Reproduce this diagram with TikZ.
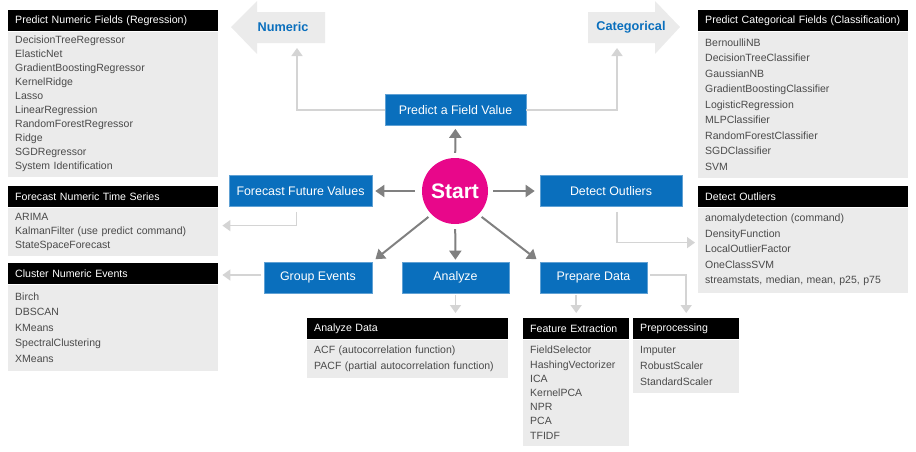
\documentclass[tikz,border=0pt]{standalone}
\usepackage{fontspec}
\setmainfont{Liberation Sans}
\usetikzlibrary{arrows.meta}
\definecolor{aiBlue}{HTML}{0A6FBD}
\definecolor{aiPink}{HTML}{E8078A}
\definecolor{aiPanel}{HTML}{EBEBEB}
\definecolor{aiInk}{HTML}{4A4A4A}
\definecolor{aiDark}{HTML}{808080}
\definecolor{aiLight}{HTML}{D4D4D4}
\tikzset{
  ai diagram/.style={x=1pt, y=-1pt},
  ai task/.style={fill=aiBlue, draw=aiBlue!65!white, line width=0.6pt, text=white,
    font=\fontsize{12.4}{14}\selectfont, minimum height=31pt},
  ai head/.style={fill=black, text=white, font=\fontsize{10.6}{12}\selectfont,
    minimum height=21pt, anchor=north west, align=left, inner xsep=7pt, inner ysep=0pt},
  ai list/.style={fill=aiPanel, text=aiInk, font=\fontsize{10.5}{#1}\selectfont,
    align=left, anchor=north west, inner xsep=7pt, inner ysep=3pt},
  ai arrow/.style={-{Triangle[length=9pt,width=12pt]}, draw=aiDark, line width=2pt,
    shorten <=5pt, shorten >=3pt},
  ai link/.style={-{Triangle[length=8pt,width=11pt]}, draw=aiLight, line width=1.6pt},
  ai tag/.style={text=aiBlue, font=\fontsize{12.7}{14}\selectfont\bfseries}
}
\begin{document}
\begin{tikzpicture}[ai diagram]
\useasboundingbox (0,0) rectangle (916,451);
% centre and task boxes
\node[circle, fill=aiPink, minimum size=66pt, inner sep=0pt, text=white,
  font=\fontsize{21}{24}\selectfont\bfseries] (start) at (455,191) {Start};
\node[ai task, minimum width=141pt] (predict) at (455.5,110) {Predict a Field Value};
\node[ai task, minimum width=143pt] (forecast) at (300.5,191) {Forecast Future Values};
\node[ai task, minimum width=142pt] (outliers) at (611,191) {Detect Outliers};
\node[ai task, minimum width=108pt] (group) at (318,277.5) {Group Events};
\node[ai task, minimum width=107pt] (analyze) at (455.5,277.5) {Analyze};
\node[ai task, minimum width=107pt] (prep) at (593.5,277.5) {Prepare Data};
% numeric / categorical tags
\fill[aiPanel] (231,27) -- (257,1) -- (257,12) -- (325,12) -- (325,43) -- (257,43) -- (257,54) -- cycle;
\node[ai tag] (numeric) at (283,27) {Numeric};
\fill[aiPanel] (680,27) -- (655,1) -- (655,12) -- (588,12) -- (588,43) -- (655,43) -- (655,54) -- cycle;
\node[ai tag] (categorical) at (631,27) {Categorical};
\coordinate (numTip) at (297,48);
\coordinate (catTip) at (617,48);
% panels
\node[ai head, text width=196pt] (regHead) at (8,10) {Predict Numeric Fields (Regression)};
\node[ai list=14, text width=196pt, minimum height=145pt] (regBody) at (regHead.south west)
  {DecisionTreeRegressor\\ElasticNet\\GradientBoostingRegressor\\KernelRidge\\Lasso\\
   LinearRegression\\RandomForestRegressor\\Ridge\\SGDRegressor\\System Identification};
\node[ai head, text width=196pt] (tsHead) at (8,186) {Forecast Numeric Time Series};
\node[ai list=14, text width=196pt, minimum height=48pt] (tsBody) at (tsHead.south west)
  {ARIMA\\KalmanFilter (use predict command)\\StateSpaceForecast};
\node[ai head, text width=196pt] (clHead) at (8,263) {Cluster Numeric Events};
\node[ai list=15.5, text width=196pt, minimum height=86pt] (clBody) at (clHead.south west)
  {Birch\\DBSCAN\\KMeans\\SpectralClustering\\XMeans};
\node[ai head, text width=196pt] (catHead) at (698,10) {Predict Categorical Fields (Classification)};
\node[ai list=15.5, text width=196pt, minimum height=146pt] (catBody) at (catHead.south west)
  {BernoulliNB\\DecisionTreeClassifier\\GaussianNB\\GradientBoostingClassifier\\
   LogisticRegression\\MLPClassifier\\RandomForestClassifier\\SGDClassifier\\SVM};
\node[ai head, text width=196pt] (outHead) at (698,186) {Detect Outliers};
\node[ai list=15.5, text width=196pt, minimum height=85pt] (outBody) at (outHead.south west)
  {anomalydetection (command)\\DensityFunction\\LocalOutlierFactor\\OneClassSVM\\
   streamstats, median, mean, p25, p75};
\node[ai head, text width=187pt] (anHead) at (307,318) {Analyze Data};
\node[ai list=16, text width=187pt, minimum height=38pt] (anBody) at (anHead.south west)
  {ACF (autocorrelation function)\\PACF (partial autocorrelation function)};
\node[ai head, text width=92pt] (feHead) at (523,318) {Feature Extraction};
\node[ai list=14.2, text width=92pt, minimum height=106pt] (feBody) at (feHead.south west)
  {FieldSelector\\HashingVectorizer\\ICA\\KernelPCA\\NPR\\PCA\\TFIDF};
\node[ai head, text width=92pt] (ppHead) at (633,318) {Preprocessing};
\node[ai list=16, text width=92pt, minimum height=53pt] (ppBody) at (ppHead.south west)
  {Imputer\\RobustScaler\\StandardScaler};
% arrows from start
\draw[ai arrow] (start) -- (predict);
\draw[ai arrow, shorten <=7pt] (start) -- (forecast);
\draw[ai arrow, shorten >=5pt] (start) -- (outliers);
\draw[ai arrow, shorten >=2pt] (start) -- (analyze);
\draw[ai arrow, shorten <=4pt, shorten >=4pt] (start.south west) -- (group.north east);
\draw[ai arrow, shorten <=4pt, shorten >=4pt] (start.south east) -- (prep.north west);
% links to panels
\draw[ai link] (predict.west) -| (numTip);
\draw[ai link] (predict.east) -| (catTip);
\draw[ai link, shorten <=5pt, shorten >=4pt] ([xshift=-4pt]forecast.south) |- ([yshift=6pt]tsBody.east);
\draw[ai link, shorten <=5pt, shorten >=3pt] ([xshift=6pt]outliers.south) |- ([yshift=7.5pt]outBody.west);
\draw[ai link, shorten <=3pt, shorten >=4pt] ([yshift=2.5pt]group.west) -- ([yshift=2.5pt]group.west -| clBody.east);
\draw[ai link, shorten <=2pt, shorten >=5pt] (analyze.south) -- (analyze.south |- anHead.north);
\draw[ai link, shorten <=2pt, shorten >=5pt] (feHead.north |- prep.south) -- (feHead.north);
\draw[ai link, shorten <=3pt, shorten >=5pt] ([yshift=2.5pt]prep.east) -| (ppHead.north);
\end{tikzpicture}
\end{document}
